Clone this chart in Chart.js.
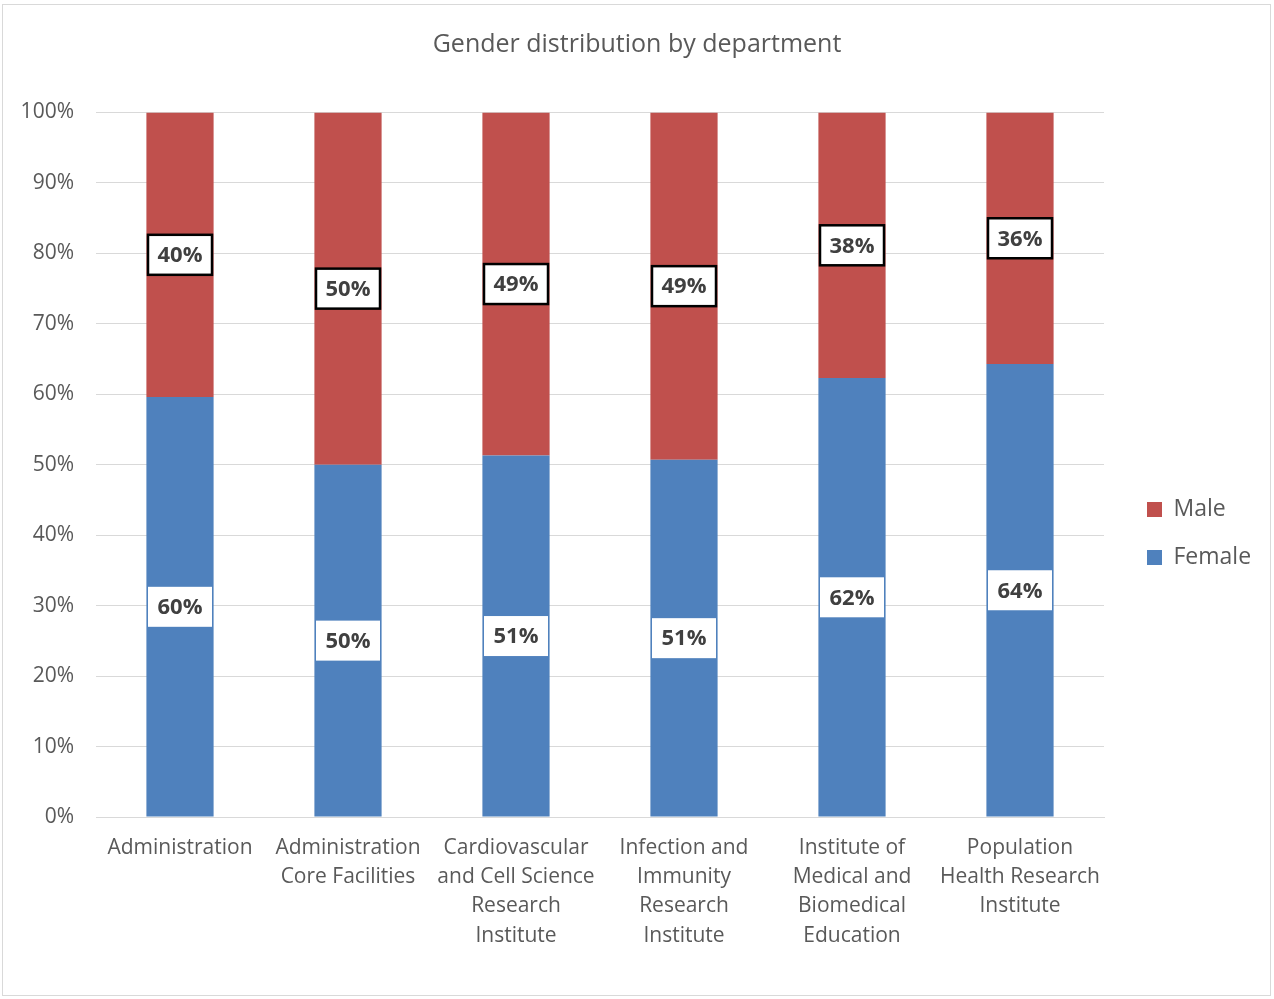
<!DOCTYPE html>
<html>
<head>
<meta charset="utf-8">
<script src="https://cdn.jsdelivr.net/npm/chart.js@4/dist/chart.umd.min.js"></script>
<style>
  html, body { margin: 0; padding: 0; background: #fff; }
  #frame { position: absolute; left: 2px; top: 4px; width: 1269px; height: 992px; border: 1px solid #d9d9d9; box-sizing: border-box; }
  #c { position: absolute; left: 0; top: 0; }
</style>
</head>
<body>
<div id="frame"></div>
<canvas id="c" width="1274" height="999"></canvas>
<script>
const categories = [
  ["Administration"],
  ["Administration", "Core Facilities"],
  ["Cardiovascular", "and Cell Science", "Research", "Institute"],
  ["Infection and", "Immunity", "Research", "Institute"],
  ["Institute of", "Medical and", "Biomedical", "Education"],
  ["Population", "Health Research", "Institute"]
];
const femaleValues = [59.6, 50.0, 51.3, 50.7, 62.3, 64.3];
const maleValues   = [40.4, 50.0, 48.7, 49.3, 37.7, 35.7];
const yTicks = [0, 10, 20, 30, 40, 50, 60, 70, 80, 90, 100];
const titleText = "Gender distribution by department";

const FONT = "'Open Sans', 'Noto Sans', sans-serif";
const TEXT = "#595959";

const dataLabels = {
  id: 'dataLabels',
  afterDatasetsDraw(chart) {
    const ctx = chart.ctx;
    ctx.save();
    ctx.font = "bold 22px " + FONT;
    ctx.textAlign = 'center';
    ctx.textBaseline = 'middle';
    chart.data.datasets.forEach((ds, di) => {
      const meta = chart.getDatasetMeta(di);
      meta.data.forEach((bar, i) => {
        const v = ds.data[i];
        const txt = Math.round(v) + '%';
        const cx = bar.x;
        const cy = (bar.y + bar.base) / 2;
        const w = 64, h = 40;
        ctx.fillStyle = '#fff';
        ctx.fillRect(cx - w / 2, cy - h / 2, w, h);
        if (ds.label === 'Male') {
          ctx.lineWidth = 2.5;
          ctx.strokeStyle = '#000';
          ctx.strokeRect(cx - w / 2, cy - h / 2, w, h);
        }
        ctx.fillStyle = '#404040';
        ctx.fillText(txt, cx, cy + 1);
      });
    });
    ctx.restore();
  }
};

const legendPlace = {
  id: 'legendPlace',
  beforeLayout(chart) {
    const lg = chart.legend;
    if (lg && !lg._patched) {
      const orig = lg.fit.bind(lg);
      lg.fit = function () { orig(); this.width = 170; };
      lg._patched = true;
    }
  },
  afterLayout(chart) {
    const lg = chart.legend;
    if (lg) {
      const dy = 34, dx = 18;
      lg.top += dy; lg.bottom += dy;
      lg.left += dx; lg.right += dx;
    }
  }
};

new Chart(document.getElementById('c'), {
  type: 'bar',
  data: {
    labels: categories,
    datasets: [
      { label: 'Female', data: femaleValues, backgroundColor: '#4F81BD', categoryPercentage: 1, barPercentage: 0.4 },
      { label: 'Male', data: maleValues, backgroundColor: '#C0504D', categoryPercentage: 1, barPercentage: 0.4 }
    ]
  },
  options: {
    responsive: false,
    animation: false,
    devicePixelRatio: 1,
    layout: { padding: { top: 0, left: 0, right: 0, bottom: 0 } },
    plugins: {
      title: {
        display: true,
        text: titleText,
        color: TEXT,
        font: { family: FONT, size: 25, weight: 'normal', lineHeight: 1.2 },
        padding: { top: 30, bottom: 52.5 }
      },
      legend: {
        position: 'right',
        reverse: true,
        labels: {
          color: TEXT,
          font: { family: FONT, size: 23 },
          boxWidth: 15,
          boxHeight: 15,
          padding: 25
        }
      },
      tooltip: { enabled: false }
    },
    scales: {
      x: {
        stacked: true,
        grid: { display: false, drawTicks: false },
        border: { display: true, color: '#d9d9d9', width: 1 },
        ticks: { color: TEXT, font: { family: FONT, size: 21, lineHeight: 1.4 }, padding: 16, maxRotation: 0, autoSkip: false },
        afterFit(scale) { scale.height = 182; }
      },
      y: {
        stacked: true,
        min: 0, max: 100,
        afterBuildTicks(scale) { scale.ticks = yTicks.map(v => ({ value: v })); },
        grid: { color: '#d9d9d9', drawTicks: false },
        border: { display: false },
        ticks: { color: TEXT, font: { family: FONT, size: 21 }, padding: 22, callback: v => v + '%' },
        afterFit(scale) { scale.width = 96; }
      }
    }
  },
  plugins: [dataLabels, legendPlace]
});
</script>
</body>
</html>
